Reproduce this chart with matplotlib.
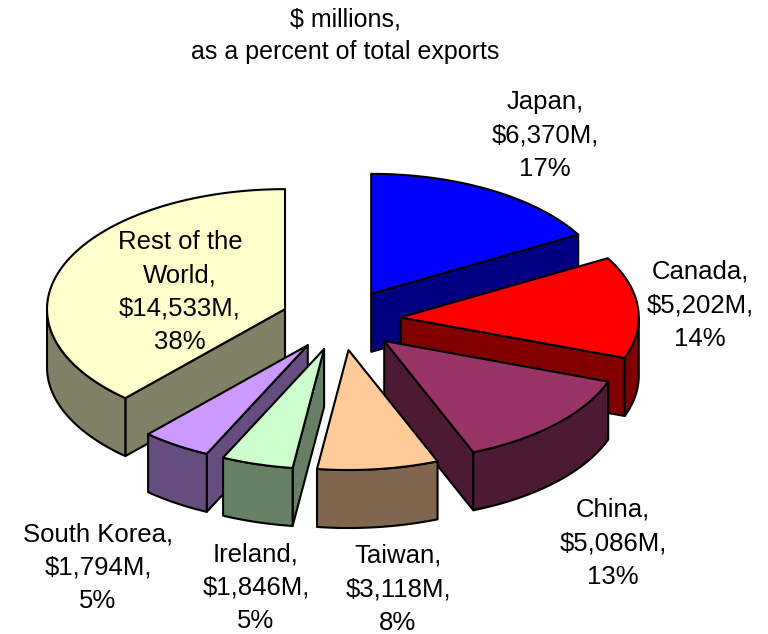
import numpy as np
import matplotlib
matplotlib.use("Agg")
import matplotlib.pyplot as plt
from matplotlib.patches import Polygon

plt.rcParams['font.family'] = ['Liberation Sans', 'DejaVu Sans']

countries = ["Japan", "Canada", "China", "Taiwan", "Ireland", "South Korea", "Rest of the World"]
values = [6370, 5202, 5086, 3118, 1846, 1794, 14533]
top_colors = ["#0000FF", "#FF0000", "#993366", "#FFCC99", "#CCFFCC", "#CC99FF", "#FFFFCC"]
side_colors = ["#000080", "#800000", "#4D1A33", "#80664D", "#668066", "#664D80", "#808066"]
labels = ["Japan,\n$6,370M,\n17%", "Canada,\n$5,202M,\n14%", "China,\n$5,086M,\n13%",
          "Taiwan,\n$3,118M,\n8%", "Ireland,\n$1,846M,\n5%", "South Korea,\n$1,794M,\n5%",
          "Rest of the\nWorld,\n$14,533M,\n38%"]
label_pos = [(545, 135), (700, 305), (613, 543), (398, 589), (256, 588), (98, 568), (180, 292)]
draw_order = [6, 0, 1, 5, 4, 2, 3]

cx, cy = 341, 320
rx, ry = 238, 120
depth = 58
explode = 60

fig = plt.figure(figsize=(7.68, 6.34), dpi=100)
ax = fig.add_axes([0, 0, 1, 1])
ax.set_xlim(0, 768)
ax.set_ylim(634, 0)
ax.axis("off")


def arc(x0, y0, t1, t2):
    t = np.radians(np.linspace(t1, t2, 80))
    return np.column_stack([x0 + rx * np.sin(t), y0 - ry * np.cos(t)])


def shape(pts, color, z):
    ax.add_patch(Polygon(pts, closed=True, facecolor=color, edgecolor="black", linewidth=1.5,
                         joinstyle="round", zorder=z))


fracs = np.array(values) / sum(values)
edges = np.concatenate([[0], np.cumsum(fracs)]) * 360

z = 1
for i in draw_order:
    t1, t2 = edges[i], edges[i + 1]
    mid = np.radians((t1 + t2) / 2)
    x0 = cx + explode * np.sin(mid)
    y0 = cy - explode * ry / rx * np.cos(mid)
    down = np.array([0, depth])
    apex = np.array([x0, y0])
    # cut faces, only the ones turned to the viewer
    if np.sin(np.radians(t1)) < 0:
        p = arc(x0, y0, t1, t1)[0]
        shape([apex, p, p + down, apex + down], side_colors[i], z)
        z += 1
    if np.sin(np.radians(t2)) > 0:
        p = arc(x0, y0, t2, t2)[0]
        shape([apex, p, p + down, apex + down], side_colors[i], z)
        z += 1
    # outer rim, front half only
    a, b = max(t1, 90), min(t2, 270)
    if a < b:
        rim = arc(x0, y0, a, b)
        shape(np.vstack([rim, rim[::-1] + down]), side_colors[i], z)
        z += 1
    shape(np.vstack([apex, arc(x0, y0, t1, t2)]), top_colors[i], z)
    z += 1

for txt, (x, y) in zip(labels, label_pos):
    ax.text(x, y, txt, ha="center", va="center", fontsize=18.5, linespacing=1.5, zorder=50)

ax.text(345, 20, "$ millions,", ha="center", va="center", fontsize=18, zorder=50)
ax.text(345, 52, "as a percent of total exports", ha="center", va="center", fontsize=18, zorder=50)

fig.savefig("out.png", dpi=100)
